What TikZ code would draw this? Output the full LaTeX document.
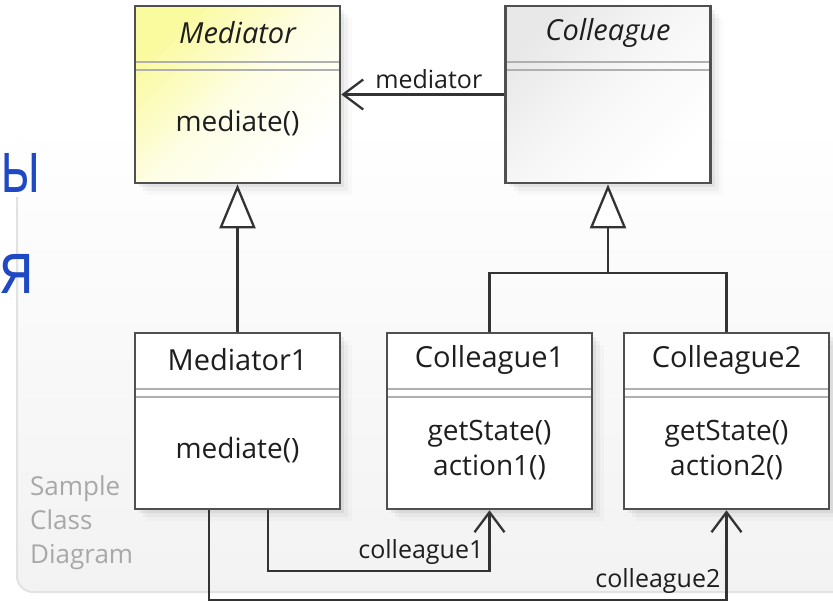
\documentclass[tikz,border=0pt]{standalone}
\usepackage{fontspec}
\setmainfont{Open Sans}
\usetikzlibrary{arrows.meta,shadows,positioning}

\definecolor{boxline}{HTML}{505050}
\definecolor{sepgray}{HTML}{B0B0B0}
\definecolor{linedark}{HTML}{333333}
\definecolor{textdark}{HTML}{1E1E1E}
\definecolor{medyellow}{HTML}{FAFA9E}
\definecolor{colgray}{HTML}{E8E8E8}
\definecolor{notegray}{HTML}{A8A8A8}
\definecolor{framegray}{HTML}{E2E2E2}
\definecolor{cyrblue}{HTML}{1F48C4}

\begin{document}
\begin{tikzpicture}[x=1pt, y=-1pt,
		classbox/.style={draw=boxline, line width=2.6pt, minimum width=205pt, minimum height=177pt, inner sep=0pt,
			general shadow={fill=black, opacity=.05, shadow xshift=4pt, shadow yshift=-4pt},
			general shadow={fill=black, opacity=.035, shadow xshift=8pt, shadow yshift=-8pt},
			general shadow={fill=black, opacity=.02, shadow xshift=12pt, shadow yshift=-12pt}},
		plainclass/.style={classbox, fill=white, minimum height=176pt},
		medclass/.style={classbox, top color=medyellow, bottom color=white, middle color=medyellow!25, shading angle=45},
		colclass/.style={classbox, top color=colgray, bottom color=white, middle color=colgray!35, shading angle=45},
		classname/.style={font=\fontsize{29}{35}\selectfont, text=textdark},
		methods/.style={font=\fontsize{28}{35}\selectfont, align=center, text=textdark},
		sepline/.style={draw=sepgray, line width=2pt, shorten <=2.6pt, shorten >=2.6pt},
		conn/.style={draw=linedark, line width=2.3pt},
		inherit/.style={conn, -{Triangle[open, length=44pt, width=36pt, fill=white]}},
		assoc/.style={conn, -{Straight Barb[length=20pt, width=30pt]}},
		rolelabel/.style={font=\fontsize{25}{30}\selectfont, text=textdark, inner sep=5pt},
		note/.style={font=\fontsize{26}{34}\selectfont, text=notegray, align=left, inner sep=0pt},
		cyr/.style={font=\fontsize{73}{80}\selectfont, text=cyrblue, inner sep=0pt}]
		\useasboundingbox (0,0) rectangle (833,602);
		
		% Background frame
		\shade[top color=white, bottom color=black!5, rounded corners=16pt] (17,120) rectangle (900,592);
		\draw[framegray, line width=2pt, rounded corners=16pt] (17,197) |- (900,592);
		
		% Cut-off text on the left
		\node[cyr, anchor=base west] (ruLine1) at (0,192) {\scalebox{.72}[1]{ы}};
		\node[cyr, anchor=base west] (ruLine2) at (0,293) {\scalebox{.85}[1]{я}};
		
		% Note
		\node[note, anchor=north west] (sample) at (30,476) {Sample\\Class\\Diagram};
		
		% Abstract classes
		\node[medclass] (med) at (237.5,94.5) {};
		\node[colclass] (col) at (608,94.5) {};
		
		% Concrete classes
		\node[plainclass] (med1) at (237.5,421) {};
		\node[plainclass] (col1) at (489.5,421) {};
		\node[plainclass] (col2) at (726.5,421) {};
		
		% Compartments and texts
		\foreach \c/\t/\m in {med/{\itshape Mediator}/{mediate()}, col/{\itshape Colleague}/{},
			med1/Mediator1/{mediate()}, col1/Colleague1/{getState()\\action1()},
			col2/Colleague2/{getState()\\action2()}}{
			\draw[sepline] ([yshift=-57pt]\c.north west) -- ([yshift=-57pt]\c.north east);
			\draw[sepline] ([yshift=-65pt]\c.north west) -- ([yshift=-65pt]\c.north east);
			\node[classname] (\c-name) at ([yshift=-28pt]\c.north) {\t};
			\node[methods] (\c-ops) at ([yshift=-118pt]\c.north) {\m};
		}
		
		% Colleague knows its mediator
		\draw[assoc] (col.west) -- (med.east) node[rolelabel, midway, above, xshift=6pt] (medRole) {mediator};
		
		% Generalisations
		\draw[inherit] (med1.north) -- (med.south);
		\coordinate (colJoin) at (608,273);
		\draw[inherit] (colJoin) -- (col.south);
		\draw[conn] (col1.north) |- (colJoin) -| (col2.north);
		
		% Mediator1 knows both colleagues
		\coordinate (c1Bend) at (268,571);
		\coordinate (c2Bend) at (209,600);
		\draw[assoc] (med1.south -| c1Bend) -- (c1Bend) -| (col1.south) node[rolelabel, pos=0.5, above left] (c1Role) {colleague1};
		\draw[assoc] (med1.south -| c2Bend) -- (c2Bend) -| (col2.south) node[rolelabel, pos=0.5, above left] (c2Role) {colleague2};
	\end{tikzpicture}
\end{document}
